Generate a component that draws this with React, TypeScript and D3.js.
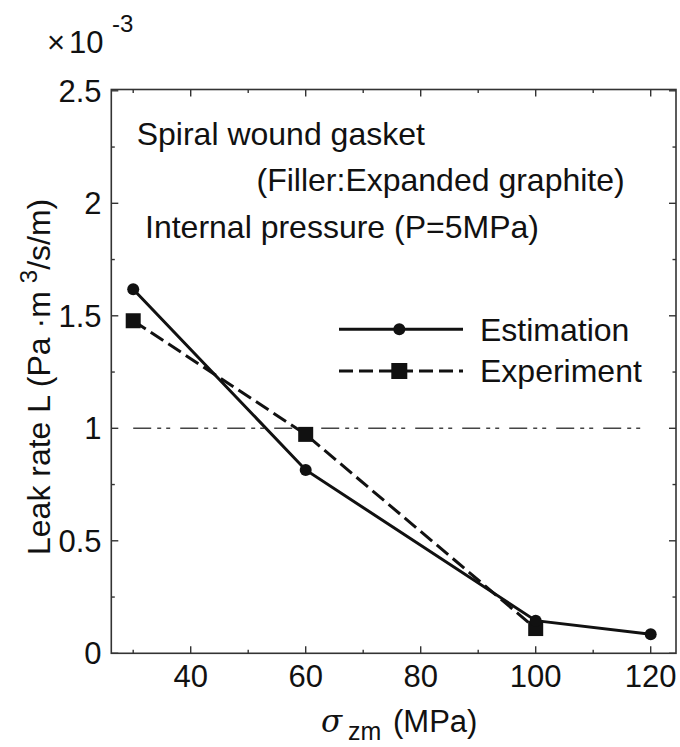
import React from "react";
import * as d3 from "d3";

const stress = [30, 60, 100, 120];
const estimation = [1.618, 0.815, 0.145, 0.085];
const experimentStress = [30, 60, 100];
const experiment = [1.478, 0.973, 0.11];
const criterion = 1.0;
const criterionRange = [30, 119.5];
const xMajor = [40, 60, 80, 100, 120];
const xMinor = [30, 50, 70, 90, 110];
const yMajor = [0, 0.5, 1, 1.5, 2, 2.5];
const yMinor = [0.25, 0.75, 1.25, 1.75, 2.25];
const yTickLabels = ["0", "0.5", "1", "1.5", "2", "2.5"];
const xTickLabels = ["40", "60", "80", "100", "120"];
const annotations = [
  "Spiral wound gasket",
  "(Filler:Expanded graphite)",
  "Internal pressure (P=5MPa)",
];
const legendLabels = ["Estimation", "Experiment"];

const W = 680;
const H = 747;
const L = 111.3;
const R = 676;
const T = 89.5;
const B = 653.3;
const FONT = "'Liberation Sans', Arial, sans-serif";
const INK = "#111";
const AX = "#333";

export default function App() {
  const x = d3.scaleLinear().domain([26.19, 124.4]).range([L, R]);
  const y = d3.scaleLinear().domain([0, 2.5]).range([B, 90.8]);
  const line = d3
    .line<[number, number]>()
    .x((d) => x(d[0]))
    .y((d) => y(d[1]));
  const estPts: [number, number][] = stress.map((s, i) => [s, estimation[i]]);
  const expPts: [number, number][] = experimentStress.map((s, i) => [s, experiment[i]]);
  const major = 7;
  const minor = 3.5;
  const sq = 15;

  return (
    <div style={{ position: "absolute", left: 0, top: 0 }}>
      <svg width={W} height={H} style={{ display: "block", background: "#fff" }}>
        {/* frame */}
        <rect x={L} y={T} width={R - L} height={B - T} fill="none" stroke={AX} strokeWidth={1.6} />
        {/* x ticks bottom & top */}
        {xMajor.map((v) => (
          <g key={"xm" + v}>
            <line x1={x(v)} x2={x(v)} y1={B} y2={B - major} stroke={AX} strokeWidth={1.4} />
            <line x1={x(v)} x2={x(v)} y1={T} y2={T + major} stroke={AX} strokeWidth={1.4} />
          </g>
        ))}
        {xMinor.map((v) => (
          <g key={"xn" + v}>
            <line x1={x(v)} x2={x(v)} y1={B} y2={B - minor} stroke={AX} strokeWidth={1.4} />
            <line x1={x(v)} x2={x(v)} y1={T} y2={T + minor} stroke={AX} strokeWidth={1.4} />
          </g>
        ))}
        {/* y ticks left & right */}
        {yMajor.map((v) => (
          <g key={"ym" + v}>
            <line x1={L} x2={L + major} y1={y(v)} y2={y(v)} stroke={AX} strokeWidth={1.4} />
            <line x1={R} x2={R - major} y1={y(v)} y2={y(v)} stroke={AX} strokeWidth={1.4} />
          </g>
        ))}
        {yMinor.map((v) => (
          <g key={"yn" + v}>
            <line x1={L} x2={L + minor} y1={y(v)} y2={y(v)} stroke={AX} strokeWidth={1.4} />
            <line x1={R} x2={R - minor} y1={y(v)} y2={y(v)} stroke={AX} strokeWidth={1.4} />
          </g>
        ))}
        {/* tick labels */}
        {xMajor.map((v, i) => (
          <text key={"xl" + v} x={x(v)} y={687} textAnchor="middle" fontFamily={FONT} fontSize={31} fill={INK}>
            {xTickLabels[i]}
          </text>
        ))}
        {yMajor.map((v, i) => (
          <text key={"yl" + v} x={101.5} y={y(v) + 11} textAnchor="end" fontFamily={FONT} fontSize={31} fill={INK}>
            {yTickLabels[i]}
          </text>
        ))}
        {/* multiplier */}
        <text x={47} y={53} fontFamily={FONT} fontSize={31} fill={INK}>
          ×
          <tspan dx={4}>10</tspan>
        </text>
        <text x={112} y={32} fontFamily={FONT} fontSize={24} fill={INK}>
          -3
        </text>
        {/* criterion line */}
        <line
          x1={x(criterionRange[0])}
          x2={x(criterionRange[1])}
          y1={y(criterion)}
          y2={y(criterion)}
          stroke="#444"
          strokeWidth={1.5}
          strokeDasharray="18 6 4 5 4 10"
        />
        {/* experiment */}
        <path d={line(expPts) || ""} fill="none" stroke={INK} strokeWidth={3} strokeDasharray="15 6" />
        {expPts.map((p, i) => (
          <rect key={"es" + i} x={x(p[0]) - sq / 2} y={y(p[1]) - sq / 2} width={sq} height={sq} fill={INK} />
        ))}
        {/* estimation */}
        <path d={line(estPts) || ""} fill="none" stroke={INK} strokeWidth={3} />
        {estPts.map((p, i) => (
          <circle key={"ec" + i} cx={x(p[0])} cy={y(p[1])} r={6} fill={INK} />
        ))}
        {/* annotations */}
        <text x={136.7} y={145} fontFamily={FONT} fontSize={32} fill={INK}>
          {annotations[0]}
        </text>
        <text x={256.5} y={191} fontFamily={FONT} fontSize={32} fill={INK}>
          {annotations[1]}
        </text>
        <text x={145} y={238} fontFamily={FONT} fontSize={32} fill={INK}>
          {annotations[2]}
        </text>
        {/* legend */}
        <line x1={339} x2={463} y1={329.3} y2={329.3} stroke={INK} strokeWidth={3} />
        <circle cx={399.3} cy={329.3} r={6} fill={INK} />
        <text x={480} y={340.5} fontFamily={FONT} fontSize={32} fill={INK}>
          {legendLabels[0]}
        </text>
        <line x1={339} x2={463} y1={371} y2={371} stroke={INK} strokeWidth={3} strokeDasharray="14 6" />
        <rect x={399.3 - 8} y={371 - 8} width={16} height={16} fill={INK} />
        <text x={480} y={382} fontFamily={FONT} fontSize={32} fill={INK}>
          {legendLabels[1]}
        </text>
        {/* axis titles */}
        <text x={321} y={732} fontFamily={FONT} fontSize={31} fill={INK}>
          <tspan fontStyle="italic" fontFamily="'DejaVu Serif', serif">σ</tspan>
        </text>
        <text x={348} y={740} fontFamily={FONT} fontSize={25} fill={INK}>
          zm
        </text>
        <text x={393} y={732} fontFamily={FONT} fontSize={31} fill={INK}>
          (MPa)
        </text>
        <text
          transform={`translate(50,555) rotate(-90)`}
          fontFamily={FONT}
          fontSize={32}
          fill={INK}
        >
          Leak rate L (Pa ·m
          <tspan dx={8} dy={-13} fontSize={24}>3</tspan>
          <tspan dy={13}>/s/m)</tspan>
        </text>
      </svg>
    </div>
  );
}
